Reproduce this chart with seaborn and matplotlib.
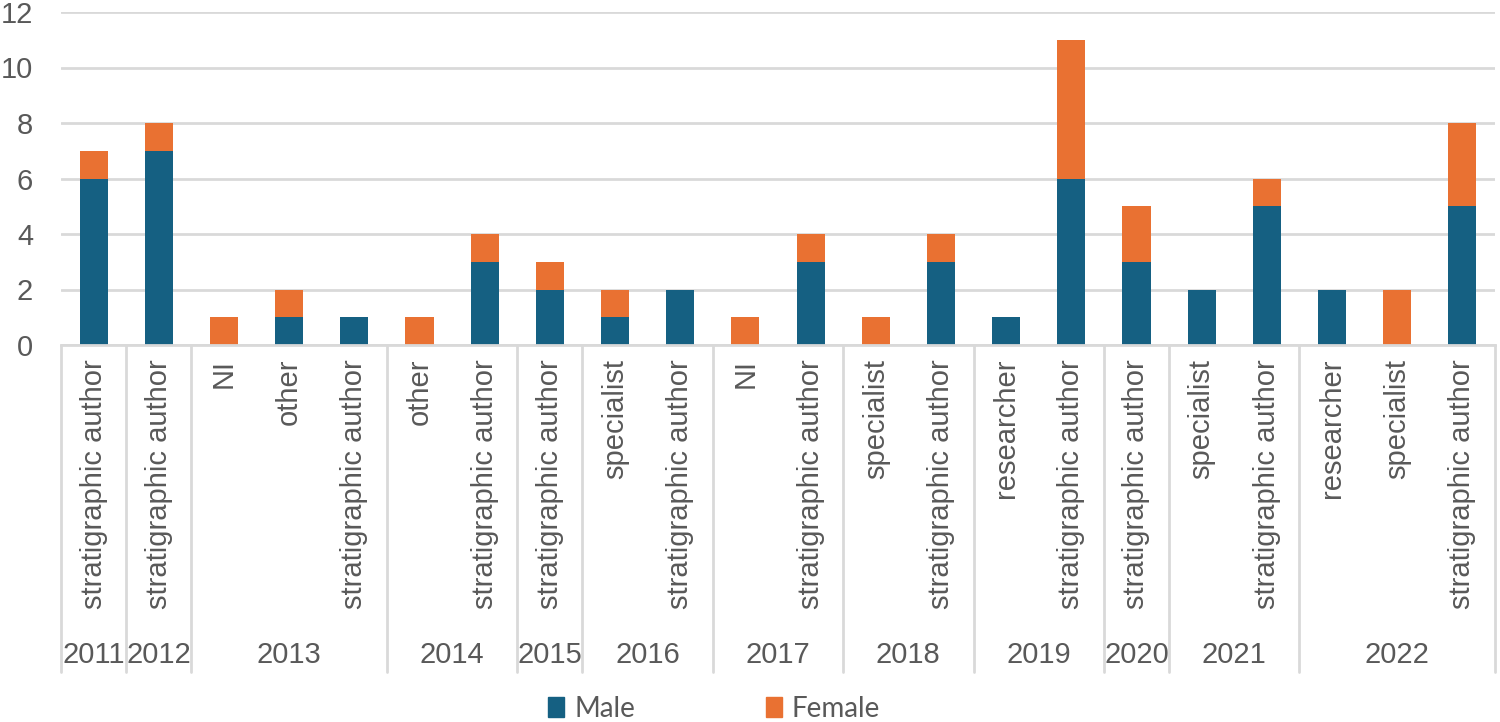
import pandas as pd
import matplotlib.pyplot as plt
import seaborn as sns
from matplotlib.patches import Patch

years = ["2011", "2012", "2013", "2013", "2013", "2014", "2014", "2015", "2016", "2016",
         "2017", "2017", "2018", "2018", "2019", "2019", "2020", "2021", "2021",
         "2022", "2022", "2022"]
roles = ["stratigraphic author", "stratigraphic author", "NI", "other", "stratigraphic author",
         "other", "stratigraphic author", "stratigraphic author", "specialist", "stratigraphic author",
         "NI", "stratigraphic author", "specialist", "stratigraphic author", "researcher",
         "stratigraphic author", "stratigraphic author", "specialist", "stratigraphic author",
         "researcher", "specialist", "stratigraphic author"]
male = [6, 7, 0, 1, 1, 0, 3, 2, 1, 2, 0, 3, 0, 3, 1, 6, 3, 2, 5, 2, 0, 5]
female = [1, 1, 1, 1, 0, 1, 1, 1, 1, 0, 1, 1, 1, 1, 0, 5, 2, 0, 1, 0, 2, 3]

df = pd.DataFrame({"year": years, "role": roles, "Male": male, "Female": female})
df["key"] = [f"{i:02d}" for i in range(len(df))]
df["total"] = df["Male"] + df["Female"]

blue = "#156082"
orange = "#E97132"
grey_txt = "#595959"
grid_c = "#D9D9D9"

sns.set_style("white")
plt.rcParams["font.family"] = ["Liberation Sans", "DejaVu Sans"]

fig = plt.figure(figsize=(15, 7.22), dpi=100)
ax = fig.add_axes([61 / 1500, 1 - 345 / 722, 1434 / 1500, 333 / 722])

sns.barplot(data=df, x="key", y="total", color=orange, width=0.43, ax=ax, saturation=1, linewidth=0)
sns.barplot(data=df, x="key", y="Male", color=blue, width=0.43, ax=ax, saturation=1, linewidth=0)

ax.set_xlim(-0.5, len(df) - 0.5)
ax.set_ylim(0, 12)
ax.set_yticks(range(0, 13, 2))
ax.yaxis.grid(True, color=grid_c, lw=2)
ax.set_axisbelow(True)
for s in ["top", "right", "left"]:
    ax.spines[s].set_visible(False)
ax.spines["bottom"].set_color(grid_c)
ax.spines["bottom"].set_linewidth(2)
ax.set_xlabel("")
ax.set_ylabel("")
ax.set_xticks(range(len(df)))
ax.set_xticklabels(df["role"], rotation=90, va="top", ha="center")
ax.tick_params(axis="x", length=0, pad=10, labelsize=21, colors=grey_txt)
ax.tick_params(axis="y", length=0, pad=20, labelsize=21, colors=grey_txt)

# year groups
trans = ax.get_xaxis_transform()
bounds = [-0.5]
start = 0
for i in range(1, len(df) + 1):
    if i == len(df) or df["year"][i] != df["year"][i - 1]:
        mid = (start + i - 1) / 2
        ax.text(mid, -0.931, df["year"][start], transform=trans, ha="center", va="center",
                fontsize=21, color=grey_txt)
        bounds.append(i - 0.5)
        start = i
for b in bounds:
    ax.plot([b, b], [0, -0.982], transform=trans, color=grid_c, lw=2, clip_on=False)

handles = [Patch(color=blue, label="Male"), Patch(color=orange, label="Female")]
fig.legend(handles=handles, loc="center", bbox_to_anchor=(0.476, 1 - 709 / 722), ncol=2,
           frameon=False, labelcolor=grey_txt, handlelength=0.6, handleheight=0.75,
           handletextpad=0.35, columnspacing=4.7, prop={"family": "Lato", "size": 20})

fig.savefig("out.png", dpi=100)
